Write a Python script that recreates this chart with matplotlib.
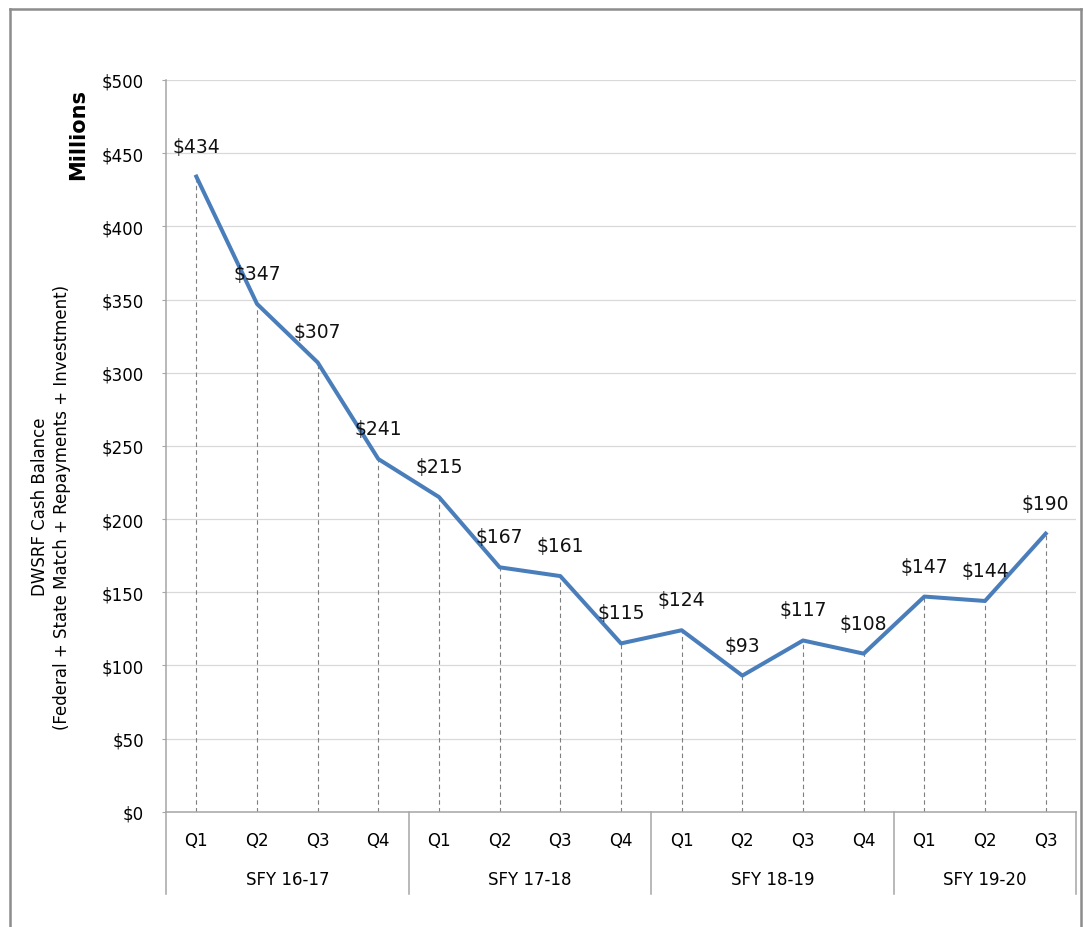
import matplotlib
matplotlib.use("Agg")
import matplotlib.pyplot as plt
import matplotlib.transforms as mtransforms
from matplotlib.lines import Line2D

# Quarterly DWSRF cash balance ($ millions)
quarters = ["Q1", "Q2", "Q3", "Q4", "Q1", "Q2", "Q3", "Q4",
            "Q1", "Q2", "Q3", "Q4", "Q1", "Q2", "Q3"]
fiscal_years = ["SFY 16-17", "SFY 17-18", "SFY 18-19", "SFY 19-20"]
quarters_per_year = [4, 4, 4, 3]
balance = [434, 347, 307, 241, 215, 167, 161, 115, 124, 93, 117, 108, 147, 144, 190]
y_ticks = [0, 50, 100, 150, 200, 250, 300, 350, 400, 450, 500]

LINE_BLUE = "#4A7EBB"
GRID = "#D9D9D9"
AXIS_GRAY = "#A6A6A6"

fig = plt.figure(figsize=(10.83, 9.28), dpi=100)
ax = fig.add_axes([166 / 1083, 1 - 812.7 / 928, 910 / 1083, 731.7 / 928])

x = list(range(len(balance)))

# dashed drop lines from each point down to the axis
ax.vlines(x, 0, balance, colors="#7F7F7F", linestyles=(0, (4, 3)), lw=0.8, zorder=1)
ax.plot(x, balance, color=LINE_BLUE, lw=2.9, solid_joinstyle="round", zorder=3)

for xi, v in zip(x, balance):
    ax.annotate(f"${v}", (xi, v), xytext=(0, 22), textcoords="offset points",
                ha="center", va="center", fontsize=13.5, color="#111111", zorder=4)

ax.set_xlim(-0.5, len(balance) - 0.5)
ax.set_ylim(0, 500)
ax.set_yticks(y_ticks)
ax.set_yticklabels([f"${t}" for t in y_ticks])
ax.yaxis.grid(True, color=GRID, lw=0.9)
ax.set_axisbelow(True)
ax.tick_params(axis="y", length=3, width=0.8, color=AXIS_GRAY, pad=13, labelsize=12)
ax.set_xticks([])

for side in ["top", "right"]:
    ax.spines[side].set_visible(False)
for side in ["left", "bottom"]:
    ax.spines[side].set_color(AXIS_GRAY)
    ax.spines[side].set_linewidth(1.1)

# two-level category axis
trans = mtransforms.blended_transform_factory(ax.transData, ax.transAxes)
for xi, q in zip(x, quarters):
    ax.text(xi, -0.0387, q, transform=trans, ha="center", va="center", fontsize=12)

start = 0
bounds = [-0.5]
for fy, n in zip(fiscal_years, quarters_per_year):
    ax.text(start + (n - 1) / 2, -0.092, fy, transform=trans,
            ha="center", va="center", fontsize=12)
    start += n
    bounds.append(start - 0.5)
for b in bounds:
    ax.add_line(Line2D([b, b], [0, -0.113], transform=trans, color=AXIS_GRAY,
                       lw=1.1, clip_on=False))

# axis titles
fig.text(78 / 1083, 1 - 135 / 928, "Millions", rotation=90, ha="center", va="center",
         fontsize=15, fontweight="bold")
fig.text(51 / 1083, 1 - 507 / 928,
         "DWSRF Cash Balance\n(Federal + State Match + Repayments + Investment)",
         rotation=90, ha="center", va="center", multialignment="center",
         fontsize=12, linespacing=1.3)

# outer chart border (left, top, right)
bx0, bx1, by = 9.5 / 1083, 1080.5 / 1083, 1 - 9.5 / 928
for xs, ys in [([bx0, bx0], [0, by]), ([bx0, bx1], [by, by]), ([bx1, bx1], [by, 0])]:
    fig.add_artist(Line2D(xs, ys, transform=fig.transFigure, color="#8C8C8C", lw=1.8))

fig.savefig("out.png", dpi=100)
